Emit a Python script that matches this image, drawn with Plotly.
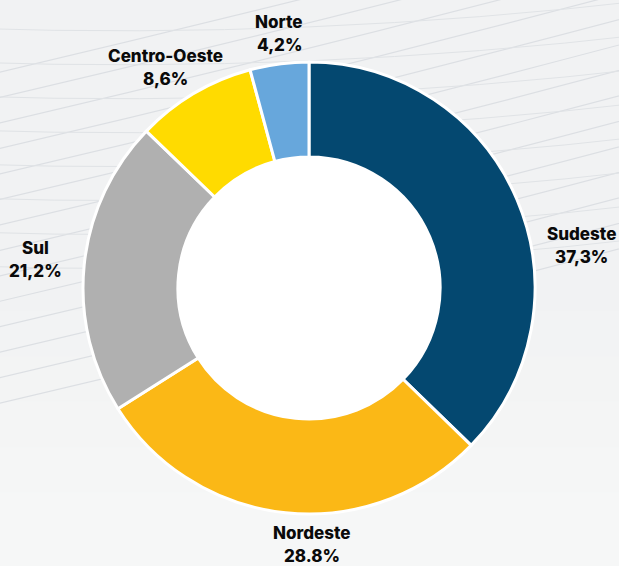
import plotly.graph_objects as go

# Data
regions = ['Sudeste', 'Nordeste', 'Sul', 'Centro-Oeste', 'Norte']
shares = [37.3, 28.8, 21.2, 8.6, 4.2]
share_text = ['37,3%', '28.8%', '21,2%', '8,6%', '4,2%']
colors = ['#044870', '#fbb816', '#b0b0b0', '#ffdb00', '#67a7dc']

W, H = 619, 566
cx, cy, r = 309, 288, 226
hole = 0.58

fig = go.Figure(go.Pie(
    labels=regions,
    values=shares,
    sort=False,
    direction='clockwise',
    rotation=0,
    hole=hole,
    textinfo='none',
    marker=dict(colors=colors, line=dict(color='white', width=3)),
    domain=dict(x=[(cx - r) / W, (cx + r) / W], y=[1 - (cy + r) / H, 1 - (cy - r) / H]),
    showlegend=False,
))

# label positions (pixels) for name / value
label_pos = {
    'Sudeste': (581, 234),
    'Nordeste': (312, 533),
    'Sul': (35, 248),
    'Centro-Oeste': (165, 56),
    'Norte': (279, 22),
}
font = dict(family='Inter, Lato, sans-serif', size=17, color='#0a0a0a', weight=800)
for name, txt in zip(regions, share_text):
    x, y = label_pos[name]
    fig.add_annotation(x=x / W, y=1 - y / H, xref='paper', yref='paper', text=name,
                       showarrow=False, font=font, xanchor='center', yanchor='middle')
    fig.add_annotation(x=x / W, y=1 - (y + 23) / H, xref='paper', yref='paper', text=txt,
                       showarrow=False, font=font, xanchor='center', yanchor='middle')

shapes = []
# soft lightening towards the bottom (stepped gradient)
for k, c in enumerate(['#f2f3f4', '#f3f4f4', '#f4f5f5', '#f5f6f6', '#f6f7f7']):
    shapes.append(dict(type='rect', xref='paper', yref='paper', layer='below',
                       x0=0, x1=1, y0=0, y1=0.45 - k * 0.08, fillcolor=c, line=dict(width=0)))
# faint decorative background lines
for i in range(14):
    y0 = 0.98 - i * 0.045
    y1 = y0 + 0.18
    shapes.append(dict(type='path', xref='paper', yref='paper', layer='below',
                       path=f'M -0.05 {y0 - 0.12} Q 0.5 {y0 + 0.02} 1.05 {y1}',
                       line=dict(color='#dcdfe3', width=1.2)))
for i in range(8):
    y0 = 0.95 - i * 0.06
    shapes.append(dict(type='path', xref='paper', yref='paper', layer='below',
                       path=f'M -0.05 {y0} Q 0.5 {y0 - 0.02} 1.05 {y0 + 0.05}',
                       line=dict(color='#e0e3e6', width=1)))

# white fill inside the donut hole
ri = r * hole
shapes.append(dict(type='circle', xref='paper', yref='paper', layer='below',
                   x0=(cx - ri) / W, x1=(cx + ri) / W, y0=1 - (cy + ri) / H, y1=1 - (cy - ri) / H,
                   fillcolor='white', line=dict(width=0)))

fig.update_layout(
    width=W, height=H,
    margin=dict(l=0, r=0, t=0, b=0),
    paper_bgcolor='#f1f2f3',
    plot_bgcolor='#f1f2f3',
    shapes=shapes,
)

fig.write_html('out.html', config={'displayModeBar': False},
               post_script="document.body.style.margin='0';document.body.style.overflow='hidden';")
